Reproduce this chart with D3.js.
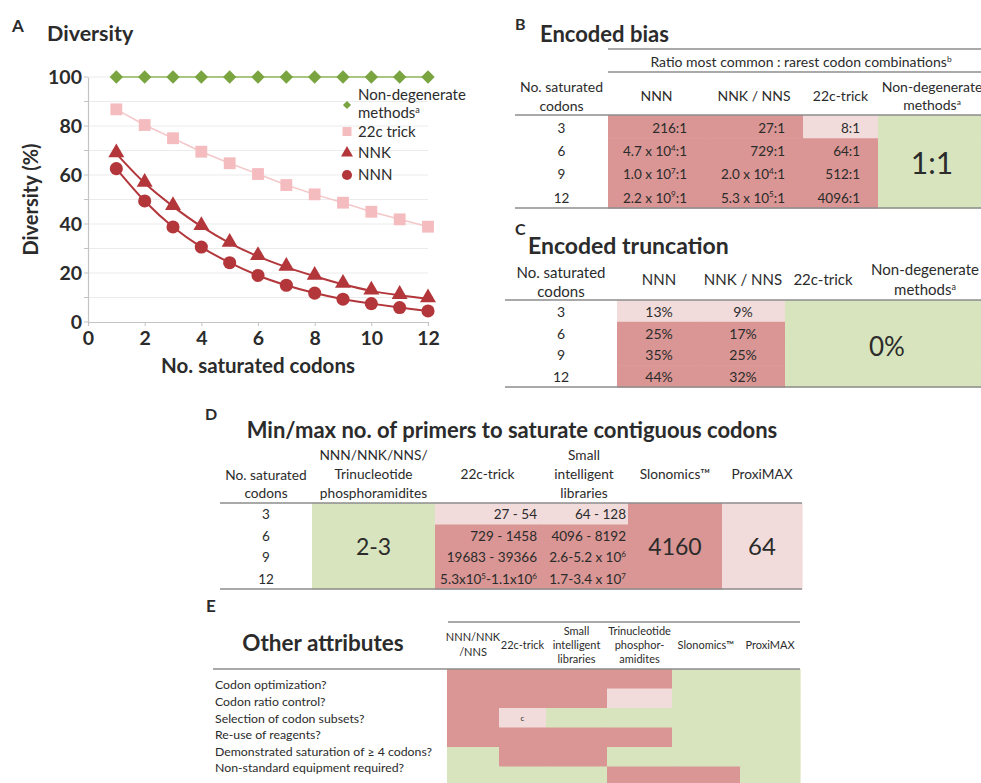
<!DOCTYPE html>
<html><head><meta charset="utf-8">
<script src="https://cdn.jsdelivr.net/npm/d3@7"></script>
<style>
body{margin:0;background:#fff}
svg{display:block}
text{font-family:Lato,'Open Sans',sans-serif;fill:#2b2b2b}
</style>
</head><body>
<svg id="c" width="981" height="783"></svg>
<script>
// ---------------- DATA ----------------
// Panel A – diversity (%) vs number of saturated codons
const codons = [1,2,3,4,5,6,7,8,9,10,11,12];
const seriesNames = ['Non-degenerate methods{a}','22c trick','NNK','NNN'];
const nonDegenerate = [100,100,100,100,100,100,100,100,100,100,100,100];
const trick22c = [86.8,80.4,75.0,69.5,64.8,60.4,55.9,52.1,48.7,45.0,41.9,38.9];
const nnk = [68.7,56.7,47.2,39.0,32.2,26.8,22.4,18.7,15.4,12.7,10.9,9.5];
const nnn = [62.6,49.4,38.8,30.6,24.2,19.0,15.0,11.8,9.3,7.5,5.9,4.5];
const xTicks = [0,2,4,6,8,10,12];
const yTicks = [0,20,40,60,80,100];

// Panel B – encoded bias
const bCodons = ['3','6','9','12'];
const bHeaders = [['NNN'],['NNK / NNS'],['22c-trick'],['Non-degenerate','methods{a}']];
const bNNN = ['216:1','4.7 x 10{4}:1','1.0 x 10{7}:1','2.2 x 10{9}:1'];
const bNNK = ['27:1','729:1','2.0 x 10{4}:1','5.3 x 10{5}:1'];
const b22c = ['8:1','64:1','512:1','4096:1'];
const bNonDeg = '1:1';
const bStates = [
  ['poor','poor','partial','good'],
  ['poor','poor','poor','good'],
  ['poor','poor','poor','good'],
  ['poor','poor','poor','good']];

// Panel C – encoded truncation
const cCodons = ['3','6','9','12'];
const cHeaders = [['NNN'],['NNK / NNS'],['22c-trick'],['Non-degenerate','methods{a}']];
const cNNN = ['13%','25%','35%','44%'];
const cNNK = ['9%','17%','25%','32%'];
const cMerged = '0%';
const cStates = [
  ['partial','partial','good','good'],
  ['poor','poor','good','good'],
  ['poor','poor','good','good'],
  ['poor','poor','good','good']];

// Panel D – primers
const dCodons = ['3','6','9','12'];
const dHeaders = [['NNN/NNK/NNS/','Trinucleotide','phosphoramidites'],['22c-trick'],['Small','intelligent','libraries'],['Slonomics™'],['ProxiMAX']];
const dTrinuc = '2-3';
const d22c = ['27 - 54','729 - 1458','19683 - 39366','5.3x10{5}-1.1x10{6}'];
const dSmall = ['64 - 128','4096 - 8192','2.6-5.2 x 10{6}','1.7-3.4 x 10{7}'];
const dSlonomics = '4160';
const dProximax = '64';
const dStates = [
  ['good','partial','partial','poor','partial'],
  ['good','poor','poor','poor','partial'],
  ['good','poor','poor','poor','partial'],
  ['good','poor','poor','poor','partial']];

// Panel E – other attributes
const eRows = ['Codon optimization?','Codon ratio control?','Selection of codon subsets?','Re-use of reagents?','Demonstrated saturation of ≥ 4 codons?','Non-standard equipment required?'];
const eHeaders = [['NNN/NNK','/NNS'],['22c-trick'],['Small','intelligent','libraries'],['Trinucleotide','phosphor-','amidites'],['Slonomics™'],['ProxiMAX']];
const eStates = [
  ['poor','poor','poor','poor','good','good'],
  ['poor','poor','poor','partial','good','good'],
  ['poor','partial','good','good','good','good'],
  ['poor','poor','poor','poor','good','good'],
  ['good','poor','poor','good','good','good'],
  ['good','good','good','poor','poor','good']];
const eNotes = [['','','','','',''],['','','','','',''],['','c','','','',''],['','','','','',''],['','','','','',''],['','','','','','']];

// ---------------- DRAWING ----------------
const svg = d3.select('#c');
const cellColor = d3.scaleOrdinal().domain(['poor','partial','good']).range(['#d99694','#f2dcdb','#d7e4bd']);

function rich(t, str, fs){
  const parts = str.split(/(\{[^}]*\})/);
  let shifted = false;
  parts.forEach(p=>{
    if(!p) return;
    const sup = p[0]==='{';
    const ts = t.append('tspan').text(sup ? p.slice(1,-1) : p);
    if(sup){ ts.attr('font-size', fs*0.6).attr('dy', -fs*0.38); shifted = true; }
    else if(shifted){ ts.attr('dy', fs*0.38); shifted = false; }
  });
  return t;
}
function txt(g, str, x, y, fs, anchor, weight, dy){
  const t = g.append('text').attr('x',x).attr('y',y).attr('font-size',fs)
    .attr('text-anchor',anchor||'start').attr('font-weight',weight||'normal');
  if(dy!==undefined) t.attr('dy',dy);
  return rich(t, str, fs);
}
function ml(g, lines, x, yc, lh, fs, anchor, weight){
  const n = lines.length;
  lines.forEach((ln,i)=> txt(g, ln, x, yc + (i-(n-1)/2)*lh, fs, anchor||'middle', weight, '0.35em'));
}
function hline(g, x1, x2, y, w){
  g.append('line').attr('x1',x1).attr('x2',x2).attr('y1',y).attr('y2',y)
    .attr('stroke','#8d8d8d').attr('stroke-width',w||1.5);
}
function cols(edges){
  return {x:i=>edges[i], w:i=>edges[i+1]-edges[i], c:i=>(edges[i]+edges[i+1])/2, r:i=>edges[i+1]};
}
function cells(g, states, C, Y, rowKeys, offset){
  states.forEach((row,i)=>row.forEach((s,j)=>{
    g.append('rect').attr('x',C.x(j+offset)).attr('y',Y(rowKeys[i]))
      .attr('width',C.w(j+offset)+0.6).attr('height',Y.bandwidth()+0.6)
      .attr('fill',cellColor(s));
  }));
}

// ===== Panel A =====
const gA = svg.append('g');
const xA = d3.scaleLinear().domain([0,12]).range([88,428]);
const yA = d3.scaleLinear().domain([0,100]).range([322,77]);
txt(gA,'A',12,32,17,'start','bold');
txt(gA,'Diversity',47,41,21.5,'start','bold');
gA.append('g').selectAll('line').data(yA.ticks(10).filter(v=>v>0)).join('line')
  .attr('x1',xA(0)).attr('x2',xA(12)).attr('y1',d=>yA(d)).attr('y2',d=>yA(d))
  .attr('stroke','#ebebeb').attr('stroke-width',1);
gA.append('g').selectAll('line').data(yA.ticks(10)).join('line')
  .attr('x1',xA(0)-4).attr('x2',xA(0)).attr('y1',d=>yA(d)).attr('y2',d=>yA(d))
  .attr('stroke','#c4c4c4');
const axY = gA.append('g').attr('transform',`translate(${xA(0)},0)`)
  .call(d3.axisLeft(yA).tickValues(yTicks).tickSize(0).tickPadding(6));
const axX = gA.append('g').attr('transform',`translate(0,${yA(0)})`)
  .call(d3.axisBottom(xA).tickValues(xTicks).tickSize(4).tickPadding(5));
[axY,axX].forEach(a=>{
  a.attr('font-family',null).attr('font-size',null);
  a.select('.domain').attr('stroke','#c4c4c4').attr('stroke-width',1.2);
  a.selectAll('.tick line').attr('stroke','#c4c4c4');
  a.selectAll('.tick text').attr('font-size',19.5).attr('font-weight','bold').attr('fill','#1a1a1a');
});
txt(gA,'No. saturated codons',(xA(0)+xA(12))/2,373,20.5,'middle','bold');
gA.append('text').attr('transform',`translate(38,${(yA(0)+yA(100))/2}) rotate(-90)`)
  .attr('text-anchor','middle').attr('font-size',20).attr('font-weight','bold').text('Diversity (%)');

const seriesData = [nonDegenerate, trick22c, nnk, nnn];
const seriesColor = ['#79a440','#f4bcbf','#b3363b','#b3363b'];
const seriesLine = ['#8fb65a','#f4c7c9','#b3363b','#b3363b'];
const seriesCurve = [d3.curveLinear, d3.curveLinear, d3.curveCatmullRom, d3.curveCatmullRom];
const seriesSym = [d3.symbolSquare, d3.symbolSquare, d3.symbolTriangle, d3.symbolCircle];
const seriesRot = [45,0,0,0];
const seriesSize = [90,140,110,135];
const legendSize = [34,80,62,80];
seriesData.forEach((vals,k)=>{
  const line = d3.line().x((d,i)=>xA(codons[i])).y(d=>yA(d)).curve(seriesCurve[k]);
  gA.append('path').datum(vals).attr('d',line).attr('fill','none')
    .attr('stroke',seriesLine[k]).attr('stroke-width',k>1?2:1.5);
});
seriesData.forEach((vals,k)=>{
  gA.append('g').selectAll('path').data(vals).join('path')
    .attr('d',d3.symbol().type(seriesSym[k]).size(seriesSize[k]))
    .attr('transform',(d,i)=>`translate(${xA(codons[i])},${yA(d)+(k===2?-1:0)}) rotate(${seriesRot[k]})`)
    .attr('fill',seriesColor[k]);
});
const legY = d3.scaleOrdinal().domain(seriesNames).range([105,131.5,153,175]);
seriesNames.forEach((name,k)=>{
  gA.append('path').attr('d',d3.symbol().type(seriesSym[k]).size(legendSize[k])())
    .attr('transform',`translate(347,${legY(name)}) rotate(${seriesRot[k]})`).attr('fill',seriesColor[k]);
  const lines = k===0 ? ['Non-degenerate','methods{a}'] : [name];
  ml(gA, lines, 358, legY(name)-(k===0?1:0), 18, 15, 'start');
});

// ===== Panel B =====
const gB = svg.append('g');
txt(gB,'B',515,30,16,'start','bold');
txt(gB,'Encoded bias',540,42,22,'start','bold');
const CB = cols([515,608,705,803,878,986]);
const YB = d3.scaleBand().domain(bCodons).range([115,208]);
cells(gB, bStates, CB, YB, bCodons, 1);
hline(gB,608,981,49,1.3); hline(gB,608,981,72,1.3);
hline(gB,515,981,115); hline(gB,515,981,208);
txt(gB,'Ratio most common : rarest codon combinations{b}',801,62,14,'middle','normal','0.35em');
ml(gB,['No. saturated','codons'],CB.c(0),97,19,14);
bHeaders.forEach((h,j)=>ml(gB,h,CB.c(j+1),96,18,14));
bCodons.forEach((c,i)=>{
  const yc = YB(c)+YB.bandwidth()/2+1.5;
  txt(gB,c,CB.c(0),yc,13.5,'middle','normal','0.35em');
  txt(gB,bNNN[i],CB.r(1)-18,yc,13.5,'end','normal','0.35em');
  txt(gB,bNNK[i],CB.r(2)-18,yc,13.5,'end','normal','0.35em');
  txt(gB,b22c[i],CB.r(3)-18,yc,13.5,'end','normal','0.35em');
});
txt(gB,bNonDeg,CB.c(4),(YB.range()[0]+YB.range()[1])/2+2,30,'middle','normal','0.35em');

// ===== Panel C =====
const gC = svg.append('g');
txt(gC,'C',515,235,16,'start','bold');
txt(gC,'Encoded truncation',528,254,23,'start','bold');
const CC = cols([505,617,701,785,861,989]);
const YC = d3.scaleBand().domain(cCodons).range([300,387]);
cells(gC, cStates, CC, YC, cCodons, 1);
hline(gC,505,981,300); hline(gC,505,981,387);
ml(gC,['No. saturated','codons'],CC.c(0),282,19,15);
cHeaders.forEach((h,j)=>ml(gC,h,CC.c(j+1),280,20,15));
cCodons.forEach((c,i)=>{
  const yc = YC(c)+YC.bandwidth()/2+1;
  txt(gC,c,CC.c(0),yc,14,'middle','normal','0.35em');
  txt(gC,cNNN[i],CC.c(1),yc,14,'middle','normal','0.35em');
  txt(gC,cNNK[i],CC.c(2),yc,14,'middle','normal','0.35em');
});
txt(gC,cMerged,(CC.x(3)+CC.r(4))/2,(YC.range()[0]+YC.range()[1])/2+3,26,'middle','normal','0.35em');

// ===== Panel D =====
const gD = svg.append('g');
txt(gD,'D',205,420,16,'start','bold');
txt(gD,'Min/max no. of primers to saturate contiguous codons',512,438,22,'middle','bold');
const CD = cols([220,312,435,540,628,722,802]);
const YD = d3.scaleBand().domain(dCodons).range([503,589]);
cells(gD, dStates, CD, YD, dCodons, 1);
hline(gD,220,802,503); hline(gD,220,802,589);
ml(gD,['No. saturated','codons'],CD.c(0),484,18,13.7);
dHeaders.forEach((h,j)=>ml(gD,h,CD.c(j+1),474,19,13.7));
dCodons.forEach((c,i)=>{
  const yc = YD(c)+YD.bandwidth()/2+1;
  txt(gD,c,CD.c(0),yc,13.5,'middle','normal','0.35em');
  txt(gD,d22c[i],CD.r(2)-3,yc,13.5,'end','normal','0.35em');
  txt(gD,dSmall[i],CD.r(3)-2,yc,13.5,'end','normal','0.35em');
});
const dMid = (YD.range()[0]+YD.range()[1])/2+1;
txt(gD,dTrinuc,CD.c(1),dMid,23,'middle','normal','0.35em');
txt(gD,dSlonomics,CD.c(4),dMid,23,'middle','normal','0.35em');
txt(gD,dProximax,CD.c(5),dMid,24,'middle','normal','0.35em');

// ===== Panel E =====
const gE = svg.append('g');
txt(gE,'E',206,612,17,'start','bold');
txt(gE,'Other attributes',323,651,22.5,'middle','bold');
const CE = cols([447,499,546,607,672,740,800]);
const YE = d3.scaleBand().domain(eRows).range([669,786]);
cells(gE, eStates, CE, YE, eRows, 0);
eNotes.forEach((row,i)=>row.forEach((n,j)=>{ if(n) txt(gE,n,CE.c(j),YE(eRows[i])+YE.bandwidth()/2,8,'middle','normal','0.35em'); }));
hline(gE,448,800,622); hline(gE,213,800,669);
eHeaders.forEach((h,j)=>ml(gE,h,CE.c(j),645,h.length===2?15:14,11));
const YEl = d3.scalePoint().domain(eRows).range([685,768]);
eRows.forEach(r=>txt(gE,r,215,YEl(r),12.3,'start','normal','0.35em'));
</script>
</body></html>
